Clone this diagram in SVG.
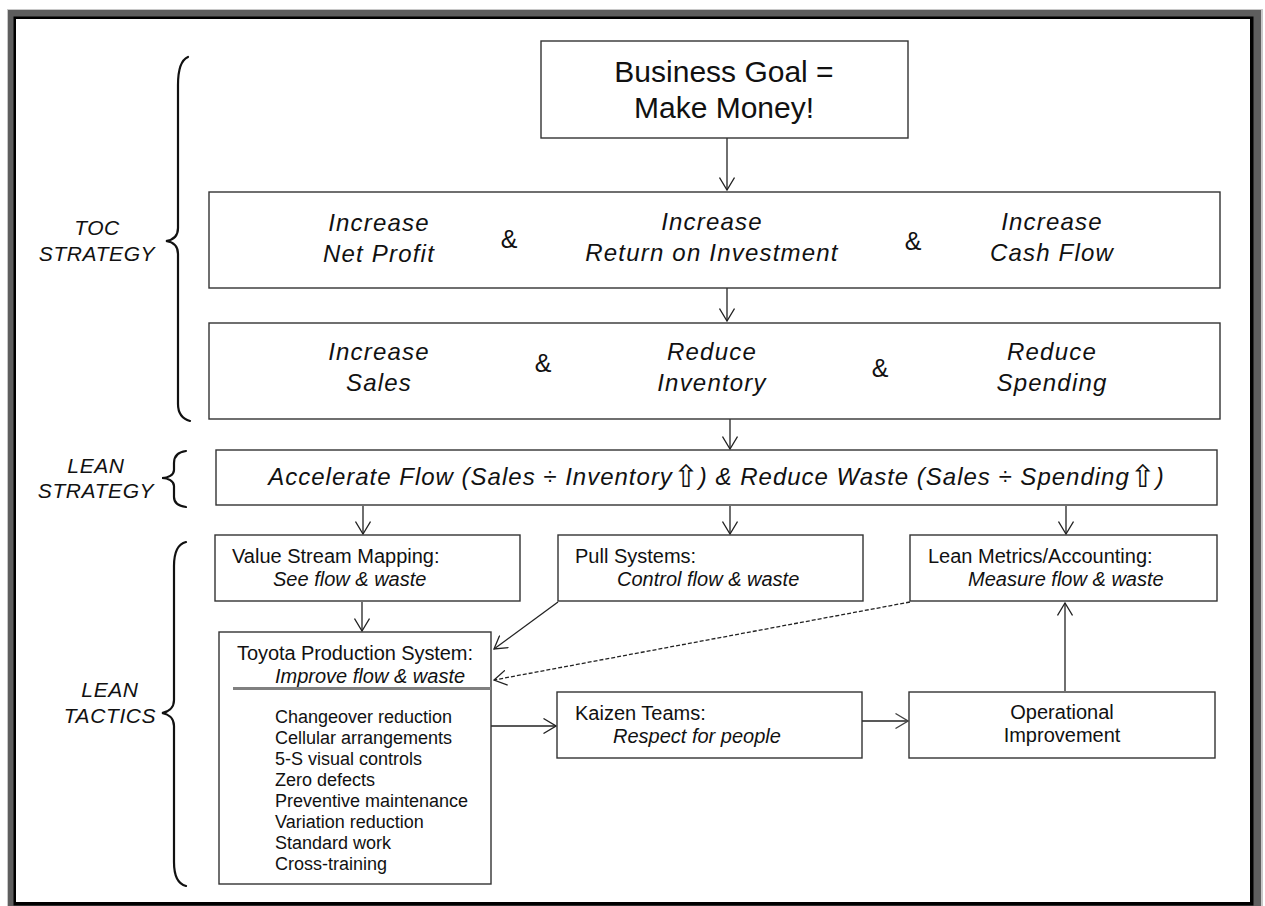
<svg xmlns="http://www.w3.org/2000/svg" width="1265" height="906" viewBox="0 0 1265 906">
  <defs>
    <style>
      .box { fill: #ffffff; stroke: #333333; stroke-width: 1.4; }
      .conn { fill: none; stroke: #222222; stroke-width: 1.3; }
      .brace { fill: none; stroke: #111111; stroke-width: 2.2; stroke-linecap: round; }
      .side { font-family: "Liberation Sans", Arial, sans-serif; font-style: italic; font-size: 21px; fill: #111111; text-anchor: middle; letter-spacing: 0.6px; }
      .goal { font-family: "Liberation Sans", Arial, sans-serif; font-size: 30px; fill: #111111; text-anchor: middle; }
      .big { font-family: "Liberation Sans", Arial, sans-serif; font-style: italic; font-size: 24px; fill: #111111; text-anchor: middle; letter-spacing: 1.2px; }
      .amp { font-family: "Liberation Sans", Arial, sans-serif; font-size: 25px; fill: #111111; text-anchor: middle; }
      .flow { font-family: "Liberation Sans", Arial, sans-serif; font-style: italic; font-size: 24px; fill: #111111; text-anchor: middle; letter-spacing: 1px; }
      .up { font-family: "DejaVu Sans", sans-serif; font-style: normal; font-size: 31px; letter-spacing: 0; }
      .t { font-family: "Liberation Sans", Arial, sans-serif; font-size: 20px; fill: #111111; }
      .ti { font-family: "Liberation Sans", Arial, sans-serif; font-style: italic; font-size: 20px; fill: #111111; }
      .li { font-family: "Liberation Sans", Arial, sans-serif; font-size: 18px; fill: #111111; }
    </style>
    <marker id="arrow" viewBox="0 0 14 16" refX="13" refY="8" markerWidth="14" markerHeight="16" markerUnits="userSpaceOnUse" orient="auto">
      <path d="M0.5,0.5 L13,8 L0.5,15.5" fill="none" stroke="#222222" stroke-width="1.3"/>
    </marker>
    <marker id="arrowGray" viewBox="0 0 14 16" refX="13" refY="8" markerWidth="14" markerHeight="16" markerUnits="userSpaceOnUse" orient="auto">
      <path d="M0.5,0.5 L13,8 L0.5,15.5" fill="none" stroke="#444444" stroke-width="1.3"/>
    </marker>
  </defs>

  <!-- page frame -->
  <g id="frame">
    <rect x="7" y="9" width="1256" height="897" fill="#c8c8c8"/>
    <rect x="8" y="10" width="1253" height="896" fill="#5e5e5e"/>
    <rect x="13.5" y="16.5" width="1240" height="889" fill="#000000"/>
    <rect x="16" y="19" width="1234" height="883" fill="#ffffff"/>
  </g>

  <!-- level labels with braces -->
  <g id="toc-strategy">
    <path class="brace" d="M188,57 C181,60 178,70 178,85 L178,228 C178,236 173,240 166,241 C173,242 178,246 178,254 L178,404 C178,414 183,419 190,421"/>
    <text class="side" x="97" y="235">TOC</text>
    <text class="side" x="97" y="261">STRATEGY</text>
  </g>
  <g id="lean-strategy">
    <path class="brace" d="M186,451 C178,452 174,456 174,463 L174,470 C174,475 168,478 162,478 C168,478 174,481 174,486 L174,497 C174,503 178,506 186,507"/>
    <text class="side" x="96" y="473">LEAN</text>
    <text class="side" x="96" y="498">STRATEGY</text>
  </g>
  <g id="lean-tactics">
    <path class="brace" d="M186,542 C178,544 174,552 174,566 L174,700 C174,708 168,712 162,713 C168,714 174,718 174,726 L174,862 C174,876 178,884 186,886"/>
    <text class="side" x="110" y="697">LEAN</text>
    <text class="side" x="110" y="723">TACTICS</text>
  </g>

  <!-- connectors -->
  <g id="connectors">
    <line class="conn" x1="727" y1="138" x2="727" y2="190" marker-end="url(#arrow)"/>
    <line class="conn" x1="727" y1="288" x2="727" y2="321" marker-end="url(#arrow)"/>
    <line class="conn" x1="730" y1="419" x2="730" y2="449" marker-end="url(#arrow)"/>
    <line class="conn" x1="363" y1="506" x2="363" y2="534" marker-end="url(#arrow)"/>
    <line class="conn" x1="730" y1="506" x2="730" y2="534" marker-end="url(#arrow)"/>
    <line class="conn" x1="1066" y1="506" x2="1066" y2="534" marker-end="url(#arrow)"/>
    <line class="conn" x1="362" y1="602" x2="362" y2="631" stroke-width="2.2" marker-end="url(#arrow)"/>
    <line class="conn" x1="558" y1="602" x2="494" y2="649" marker-end="url(#arrow)"/>
    <line class="conn" x1="910" y1="602" x2="494" y2="680" stroke-dasharray="4,2" marker-end="url(#arrow)"/>
    <line class="conn" x1="491" y1="726" x2="556" y2="726" marker-end="url(#arrow)"/>
    <line class="conn" x1="862" y1="721" x2="908" y2="721" stroke="#777777" stroke-width="1.8" marker-end="url(#arrowGray)"/>
    <line class="conn" x1="1065" y1="691" x2="1065" y2="603" marker-end="url(#arrow)"/>
  </g>

  <!-- goal -->
  <g id="business-goal">
    <rect class="box" x="541" y="41" width="367" height="97"/>
    <text class="goal" x="724" y="82">Business Goal =</text>
    <text class="goal" x="724" y="118">Make Money!</text>
  </g>

  <!-- financial measures -->
  <g id="financial-goals">
    <rect class="box" x="209" y="192" width="1011" height="96"/>
    <text class="big" x="379" y="231">Increase</text>
    <text class="big" x="379" y="262">Net Profit</text>
    <text class="amp" x="509" y="248">&amp;</text>
    <text class="big" x="712" y="230">Increase</text>
    <text class="big" x="712" y="261">Return on Investment</text>
    <text class="amp" x="913" y="250">&amp;</text>
    <text class="big" x="1052" y="230">Increase</text>
    <text class="big" x="1052" y="261">Cash Flow</text>
  </g>

  <!-- operational measures -->
  <g id="operational-goals">
    <rect class="box" x="209" y="323" width="1011" height="96"/>
    <text class="big" x="379" y="360">Increase</text>
    <text class="big" x="379" y="391">Sales</text>
    <text class="amp" x="543" y="372">&amp;</text>
    <text class="big" x="712" y="360">Reduce</text>
    <text class="big" x="712" y="391">Inventory</text>
    <text class="amp" x="880" y="377">&amp;</text>
    <text class="big" x="1052" y="360">Reduce</text>
    <text class="big" x="1052" y="391">Spending</text>
  </g>

  <!-- lean strategy -->
  <g id="lean-strategy-box">
    <rect class="box" x="216" y="450" width="1001" height="55"/>
    <text class="flow" x="716.5" y="485">Accelerate Flow (Sales ÷ Inventory<tspan class="up" dy="2">⇧</tspan><tspan dy="-2">) &amp; Reduce Waste (Sales ÷ Spending</tspan><tspan class="up" dy="2">⇧</tspan><tspan dy="-2">)</tspan></text>
  </g>

  <!-- lean tactics -->
  <g id="value-stream-mapping">
    <rect class="box" x="215" y="535" width="305" height="66"/>
    <text class="t" x="232" y="563">Value Stream Mapping:</text>
    <text class="ti" x="273" y="586">See flow &amp; waste</text>
  </g>
  <g id="pull-systems">
    <rect class="box" x="558" y="535" width="305" height="66"/>
    <text class="t" x="575" y="563">Pull Systems:</text>
    <text class="ti" x="617" y="586">Control flow &amp; waste</text>
  </g>
  <g id="lean-metrics">
    <rect class="box" x="910" y="535" width="307" height="66"/>
    <text class="t" x="928" y="563">Lean Metrics/Accounting:</text>
    <text class="ti" x="968" y="586">Measure flow &amp; waste</text>
  </g>
  <g id="toyota-production-system">
    <rect class="box" x="219" y="632" width="272" height="252"/>
    <text class="t" x="237" y="660" textLength="236">Toyota Production System:</text>
    <text class="ti" x="275" y="683">Improve flow &amp; waste</text>
    <line x1="233" y1="688.5" x2="491" y2="688.5" stroke="#808080" stroke-width="3.2"/>
    <text class="li" x="275" y="723">Changeover reduction</text>
    <text class="li" x="275" y="744">Cellular arrangements</text>
    <text class="li" x="275" y="765">5-S visual controls</text>
    <text class="li" x="275" y="786">Zero defects</text>
    <text class="li" x="275" y="807">Preventive maintenance</text>
    <text class="li" x="275" y="828">Variation reduction</text>
    <text class="li" x="275" y="849">Standard work</text>
    <text class="li" x="275" y="870">Cross-training</text>
  </g>
  <g id="kaizen-teams">
    <rect class="box" x="557" y="692" width="305" height="66"/>
    <text class="t" x="575" y="720">Kaizen Teams:</text>
    <text class="ti" x="613" y="743">Respect for people</text>
  </g>
  <g id="operational-improvement">
    <rect class="box" x="909" y="692" width="306" height="66"/>
    <text class="t" x="1062" y="719" text-anchor="middle">Operational</text>
    <text class="t" x="1062" y="742" text-anchor="middle">Improvement</text>
  </g>
</svg>
